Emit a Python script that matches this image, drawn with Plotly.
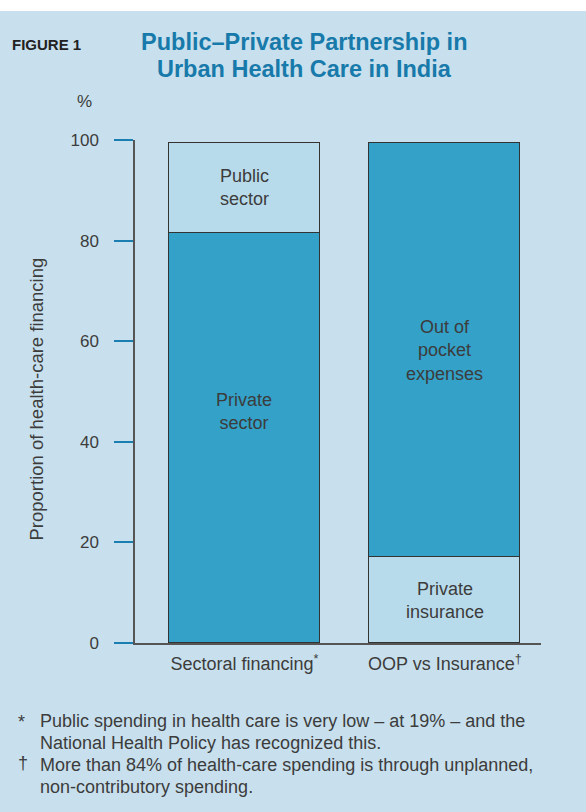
import plotly.graph_objects as go

# ---------------- data ----------------
categories = ["Sectoral financing", "OOP vs Insurance"]
category_marks = ["*", "†"]
lower_values = [81.6, 17.0]
upper_values = [17.9, 82.4]
lower_names = ["Private<br>sector", "Private<br>insurance"]
upper_names = ["Public<br>sector", "Out of<br>pocket<br>expenses"]
y_ticks = [0, 20, 40, 60, 80, 100]
title_lines = ["Public–Private Partnership in", "Urban Health Care in India"]
footnote_marks = ["*", "†"]
footnote_lines = [
    ["Public spending in health care is very low – at 19% – and the",
     "National Health Policy has recognized this."],
    ["More than 84% of health-care spending is through unplanned,",
     "non-contributory spending."],
]

# ---------------- layout helpers ----------------
W, H = 586, 812
ML, MR, MT, MB = 135, 45, 140, 169
PW = W - ML - MR
PH = H - MT - MB


def px(x):
    return (x - ML) / PW


def py(y):
    return (H - MB - y) / PH


DARK = "#33a1c8"
LIGHT = "#b8dbeb"
BG = "#c8e0ed"
TXT = "#3c3c3c"
BLUE = "#177aaa"
FONT = "Liberation Sans, Arial, sans-serif"

xpos = list(range(len(categories)))
lower_colors = [DARK, LIGHT]
upper_colors = [LIGHT, DARK]

fig = go.Figure()
fig.add_trace(go.Bar(
    x=xpos, y=lower_values, width=0.753,
    marker=dict(color=lower_colors, line=dict(color="#333333", width=1)),
    hoverinfo="skip", showlegend=False,
))
fig.add_trace(go.Bar(
    x=xpos, y=upper_values, width=0.753,
    marker=dict(color=upper_colors, line=dict(color="#333333", width=1)),
    hoverinfo="skip", showlegend=False,
))

annotations = []
# in-bar labels
for i, xv in enumerate(xpos):
    annotations.append(dict(
        x=xv, y=lower_values[i] / 2, xref="x", yref="y",
        text=lower_names[i], showarrow=False,
        yshift=26 if i == 0 else 0,
        font=dict(family=FONT, size=18, color=TXT),
    ))
    annotations.append(dict(
        x=xv, y=lower_values[i] + upper_values[i] / 2, xref="x", yref="y",
        text=upper_names[i], showarrow=False,
        font=dict(family=FONT, size=18, color=TXT),
    ))

# titles
annotations.append(dict(
    x=px(10), y=py(44), xref="paper", yref="paper", xanchor="left", yanchor="middle",
    text="<b>FIGURE 1</b>", showarrow=False,
    font=dict(family=FONT, size=15, color="#222222"),
))
for line, ty in zip(title_lines, [42, 69]):
    annotations.append(dict(
        x=px(304.5), y=py(ty), xref="paper", yref="paper", xanchor="center", yanchor="middle",
        text=f"<b>{line}</b>", showarrow=False,
        font=dict(family=FONT, size=23.5, color=BLUE),
    ))
annotations.append(dict(
    x=px(84), y=py(102), xref="paper", yref="paper", xanchor="center", yanchor="middle",
    text="%", showarrow=False,
    font=dict(family=FONT, size=17, color=TXT),
))
annotations.append(dict(
    x=px(35.5), y=py(399), xref="paper", yref="paper", xanchor="center", yanchor="middle",
    text="Proportion of health-care financing", showarrow=False, textangle=-90,
    font=dict(family=FONT, size=18.5, color=TXT),
))
# footnotes
mark_y = [722, 763]
line_y = [[721, 743], [765, 787]]
for mark, lines, my, lys in zip(footnote_marks, footnote_lines, mark_y, line_y):
    annotations.append(dict(
        x=px(16), y=py(my), xref="paper", yref="paper",
        xanchor="left", yanchor="middle", text=mark, showarrow=False,
        font=dict(family=FONT, size=18, color=TXT),
    ))
    for ln, ly in zip(lines, lys):
        annotations.append(dict(
            x=px(38), y=py(ly), xref="paper", yref="paper",
            xanchor="left", yanchor="middle", text=ln, showarrow=False, align="left",
            font=dict(family=FONT, size=18, color=TXT),
        ))

shapes = [dict(
    type="rect", xref="paper", yref="paper",
    x0=px(0), x1=px(W), y0=py(11), y1=py(0),
    fillcolor="white", line=dict(width=0), layer="below",
)]

fig.update_layout(
    width=W, height=H,
    margin=dict(l=ML, r=MR, t=MT, b=MB, pad=0),
    paper_bgcolor=BG, plot_bgcolor=BG,
    barmode="stack", bargap=0,
    font=dict(family=FONT, size=17, color=TXT),
    annotations=annotations, shapes=shapes,
    xaxis=dict(
        range=[-0.546, 1.479], tickvals=xpos,
        ticktext=[f"{c}<sup>{m}</sup>" for c, m in zip(categories, category_marks)],
        showline=True, linecolor="#555555", linewidth=1.5,
        showgrid=False, zeroline=False, ticks="", ticklabelstandoff=4,
        tickfont=dict(family=FONT, size=18, color=TXT), fixedrange=True,
    ),
    yaxis=dict(
        range=[0, 100], tickvals=y_ticks,
        showline=True, linecolor="#555555", linewidth=1.5,
        showgrid=False, zeroline=False,
        ticks="outside", ticklen=19, tickcolor="#1a7fb0", tickwidth=1.5,
        ticklabelstandoff=12,
        tickfont=dict(family=FONT, size=17, color=TXT), fixedrange=True,
    ),
)

fig.write_html("out.html")
